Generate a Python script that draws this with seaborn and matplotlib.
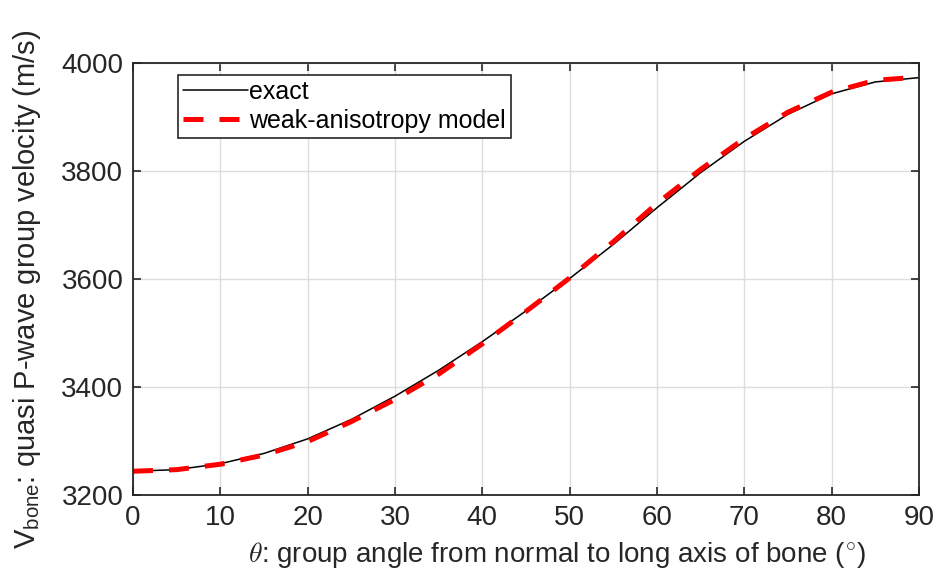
import numpy as np
import pandas as pd
import matplotlib
matplotlib.use("Agg")
import matplotlib.pyplot as plt
import seaborn as sns

# group angle (deg) and velocities
theta = [0, 5, 10, 15, 20, 25, 30, 35, 40, 45, 50, 55, 60, 65, 70, 75, 80, 85, 90]
v_exact = [3244, 3247, 3258, 3277, 3304, 3340, 3383, 3431, 3484, 3541,
           3601, 3664, 3732, 3797, 3855, 3905, 3943, 3965, 3973]
v_weak = [3244, 3247, 3257, 3274, 3299, 3336, 3377, 3424, 3480, 3540,
          3602, 3669, 3740, 3803, 3860, 3909, 3946, 3968, 3974]

x_ticks = [0, 10, 20, 30, 40, 50, 60, 70, 80, 90]
y_ticks = [3200, 3400, 3600, 3800, 4000]

sns.set_theme(style="whitegrid")
plt.rcParams["font.family"] = ["Liberation Sans", "DejaVu Sans"]
plt.rcParams["mathtext.fontset"] = "custom"
plt.rcParams["mathtext.rm"] = "Liberation Sans"
plt.rcParams["mathtext.it"] = "Liberation Sans:italic"

df = pd.DataFrame({"theta": theta, "exact": v_exact, "weak": v_weak})

fig = plt.figure(figsize=(9.38, 5.73), dpi=100)
ax = fig.add_axes([0.1418, 0.1361, 0.8379, 0.7539])

sns.lineplot(data=df, x="theta", y="exact", ax=ax, color="black",
             linewidth=1.1, label="exact")
sns.lineplot(data=df, x="theta", y="weak", ax=ax, color="red",
             linewidth=3.6, linestyle=(0, (4, 3.2)),
             label="weak-anisotropy model")

ax.set_xlim(0, 90)
ax.set_ylim(3200, 4000)
ax.set_xticks(x_ticks)
ax.set_yticks(y_ticks)
ax.grid(True, color="#dedede", linewidth=1.0)
for s in ax.spines.values():
    s.set_color("#262626")
    s.set_linewidth(1.3)
ax.tick_params(direction="in", length=6, width=1.2, color="#262626",
               labelsize=20, labelcolor="#262626", top=True, right=True,
               bottom=True, left=True, pad=7)

ax.set_xlabel(r"$\theta$: group angle from normal to long axis of bone ($^{\circ}$)",
              fontsize=20, color="#262626", math_fontfamily="cm")
ax.xaxis.set_label_coords(0.54, -0.105)
ax.set_ylabel(r"V$_{\rm bone}$: quasi P-wave group velocity (m/s)",
              fontsize=21, color="#262626")
ax.yaxis.set_label_coords(-0.114, 0.476)

leg = ax.legend(loc="upper left", bbox_to_anchor=(0.057, 0.972), fontsize=18,
                frameon=True, fancybox=False, framealpha=1, edgecolor="#262626",
                handlelength=2.6, handletextpad=0.05, borderpad=0.2,
                labelspacing=0.2, borderaxespad=0)
leg.get_frame().set_linewidth(1.2)
for t in leg.get_texts():
    t.set_color("black")

fig.savefig("out.png", dpi=100)
